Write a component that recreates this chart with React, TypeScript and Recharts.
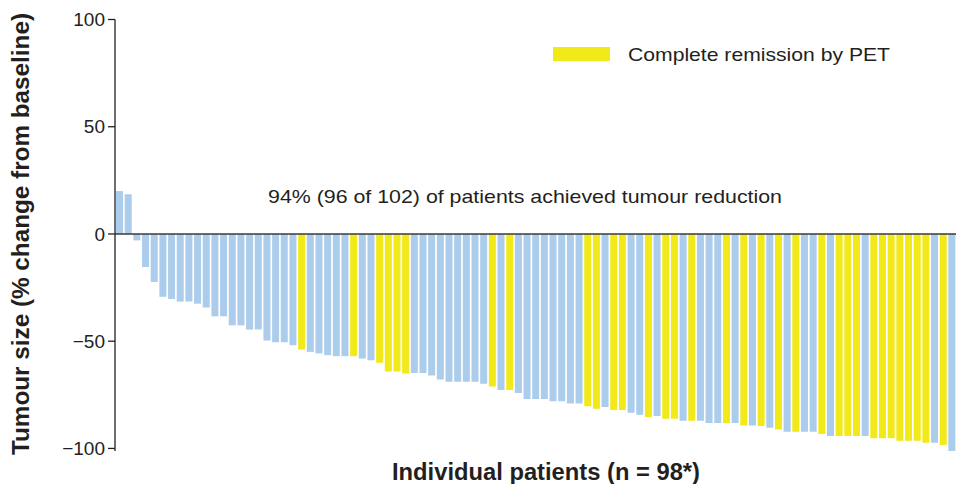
import React from 'react';
import {
  BarChart,
  Bar,
  XAxis,
  YAxis,
  Cell,
  ReferenceLine,
  Customized,
} from 'recharts';

// % change in tumour size from baseline, one value per patient, sorted
const tumourChange = [
  20, 18.5, -3, -15.4, -22.4, -29.3, -30.3, -31.5, -31.5, -32.5,
  -34.3, -38.4, -38.4, -42.6, -42.6, -44.6, -44.6, -49.7, -50.5, -50.5,
  -51.9, -53.9, -55, -55.7, -56.5, -57, -57, -57, -58.1, -58.9,
  -60.1, -64.1, -64.1, -65.1, -64.8, -64.8, -66, -67.9, -68.9, -68.9,
  -68.9, -68.9, -69.9, -71.1, -72.8, -72.8, -74.1, -76.9, -76.9, -76.9,
  -78, -78, -79, -79, -80.3, -81.5, -80.7, -82.1, -82.1, -83.4,
  -84.3, -85.4, -84.9, -86.2, -86.2, -87.1, -87.1, -87.1, -88.2, -88.2,
  -88.2, -88.2, -89.3, -89.3, -89.6, -90.4, -91.2, -92.2, -92.2, -92.2,
  -92.2, -93.3, -94.2, -94.2, -94.2, -94.2, -94.2, -95.3, -95.3, -95.3,
  -96.4, -96.4, -96.4, -97.3, -97.3, -98.4, -101.2,
];

// patients (1-based position in the plot) with complete remission by PET
const completeRemission = [
  22, 28, 31, 32, 33, 34, 44, 46, 55, 56, 58, 59, 62, 64, 65, 67, 71, 73,
  75, 77, 79, 82, 84, 85, 86, 88, 89, 90, 91, 92, 93, 94, 96,
];

const yTicks = [-100, -50, 0, 50, 100];

const CR_COLOR = '#f2e91a';
const OTHER_COLOR = '#abcdeb';
const TEXT_COLOR = '#231f20';
const FONT = '"Liberation Sans", Arial, Helvetica, sans-serif';

const data = tumourChange.map((change, i) => ({
  patient: i + 1,
  change,
  cr: completeRemission.includes(i + 1),
}));

const formatTick = (v: number) => (v < 0 ? `\u2212${Math.abs(v)}` : `${v}`);

const Annotations = () => (
  <g fontFamily={FONT} fill={TEXT_COLOR}>
    <text
      x={28.5}
      y={234}
      transform='rotate(-90 28.5 234)'
      textAnchor='middle'
      fontSize={23}
      fontWeight='bold'
      textLength={442}
      lengthAdjust='spacingAndGlyphs'
    >
      Tumour size (% change from baseline)
    </text>
    <text
      x={546}
      y={480}
      textAnchor='middle'
      fontSize={23}
      fontWeight='bold'
      textLength={308}
      lengthAdjust='spacingAndGlyphs'
    >
      Individual patients (n = 98*)
    </text>
    <text
      x={525}
      y={203}
      textAnchor='middle'
      fontSize={19}
      textLength={514}
      lengthAdjust='spacingAndGlyphs'
    >
      94% (96 of 102) of patients achieved tumour reduction
    </text>
    <rect x={553} y={47} width={57} height={14} fill={CR_COLOR} />
    <text
      x={628}
      y={61}
      fontSize={19}
      textLength={262}
      lengthAdjust='spacingAndGlyphs'
    >
      Complete remission by PET
    </text>
  </g>
);

export default function App() {
  return (
    <div style={{ position: 'absolute', left: 0, top: 0, background: '#fff' }}>
      <BarChart
        width={956}
        height={484}
        data={data}
        margin={{ top: 19.5, right: 0, bottom: 33, left: 0 }}
        barCategoryGap='12%'
      >
        <XAxis dataKey='patient' hide />
        <YAxis
          width={115}
          domain={[-100, 100]}
          ticks={yTicks}
          interval={0}
          tickFormatter={formatTick}
          tickSize={7}
          tickMargin={3}
          tick={{ fontSize: 19, fill: TEXT_COLOR, fontFamily: FONT }}
          axisLine={{ stroke: TEXT_COLOR, strokeWidth: 1.3 }}
          tickLine={{ stroke: TEXT_COLOR, strokeWidth: 1.3 }}
        />
        <Bar dataKey='change' isAnimationActive={false}>
          {data.map((d) => (
            <Cell key={d.patient} fill={d.cr ? CR_COLOR : OTHER_COLOR} />
          ))}
        </Bar>
        <ReferenceLine y={0} stroke='#3a3a3a' strokeWidth={1.5} />
        <Customized component={Annotations} />
      </BarChart>
    </div>
  );
}
